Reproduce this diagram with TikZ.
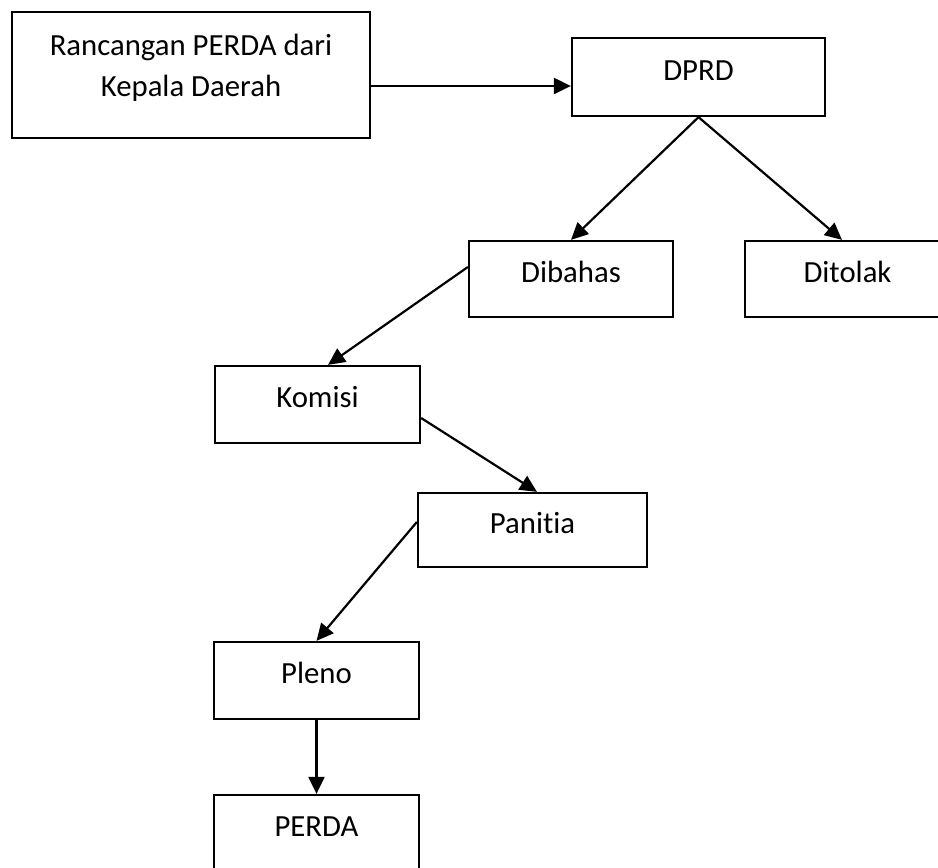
\documentclass[tikz,border=0pt]{standalone}
\usepackage{fontspec}
\setmainfont{Carlito}[Ligatures=NoCommon]
\usetikzlibrary{arrows.meta}

\begin{document}
\begin{tikzpicture}[font=\fontsize{17.5}{23.3}\selectfont]
  \definecolor{ink}{HTML}{000000}
  \path[use as bounding box] (0,0) rectangle (18.76,-17.34);

  \tikzset{stage/.style={draw=ink,line width=1.3pt,text=ink,inner sep=0pt,
             minimum width=4.1cm,minimum height=1.54cm,text height=.4cm,text depth=.28cm},
           flow/.style={draw=ink,line width=1.25pt,-{Triangle[length=.34cm,width=.32cm]}}}

  % Word-style boxes, placed where the original sits
  \node[stage,minimum width=7.16cm,minimum height=2.52cm,align=center,
        text height=1.24cm,text depth=.4cm] (draft) at (3.82,-1.5)
        {Rancangan PERDA dari\\Kepala Daerah};
  \node[stage,minimum width=5.06cm,minimum height=1.56cm] (dprd) at (13.97,-1.54) {DPRD};
  \node[stage,minimum width=4.08cm,minimum height=1.52cm] (dibahas) at (11.42,-5.58) {Dibahas};
  \node[stage,minimum height=1.52cm] (ditolak) at (16.95,-5.58) {Ditolak};
  \node[stage] (komisi) at (6.35,-8.09) {Komisi};
  \node[stage,minimum width=4.58cm,minimum height=1.48cm] (panitia) at (10.65,-10.6) {Panitia};
  \node[stage] (pleno) at (6.33,-13.61) {Pleno};
  \node[stage] (perda) at (6.33,-16.67) {PERDA};

  \draw[flow] ([yshift=-.22cm]draft.east) -- ([yshift=-.22cm]draft.east -| dprd.west);
  \draw[flow] (dprd.south) -- (dibahas.north);
  \draw[flow] (dprd.south) -- ([xshift=-.11cm]ditolak.north);
  \draw[flow] ([yshift=.24cm]dibahas.west) -- ([xshift=.21cm]komisi.north);
  \draw[flow] ([yshift=-.27cm]komisi.east) -- ([xshift=.09cm]panitia.north);
  \draw[flow] ([yshift=.16cm]panitia.west) -- (pleno.north);
  \draw[flow] (pleno.south) -- (perda.north);
\end{tikzpicture}
\end{document}
